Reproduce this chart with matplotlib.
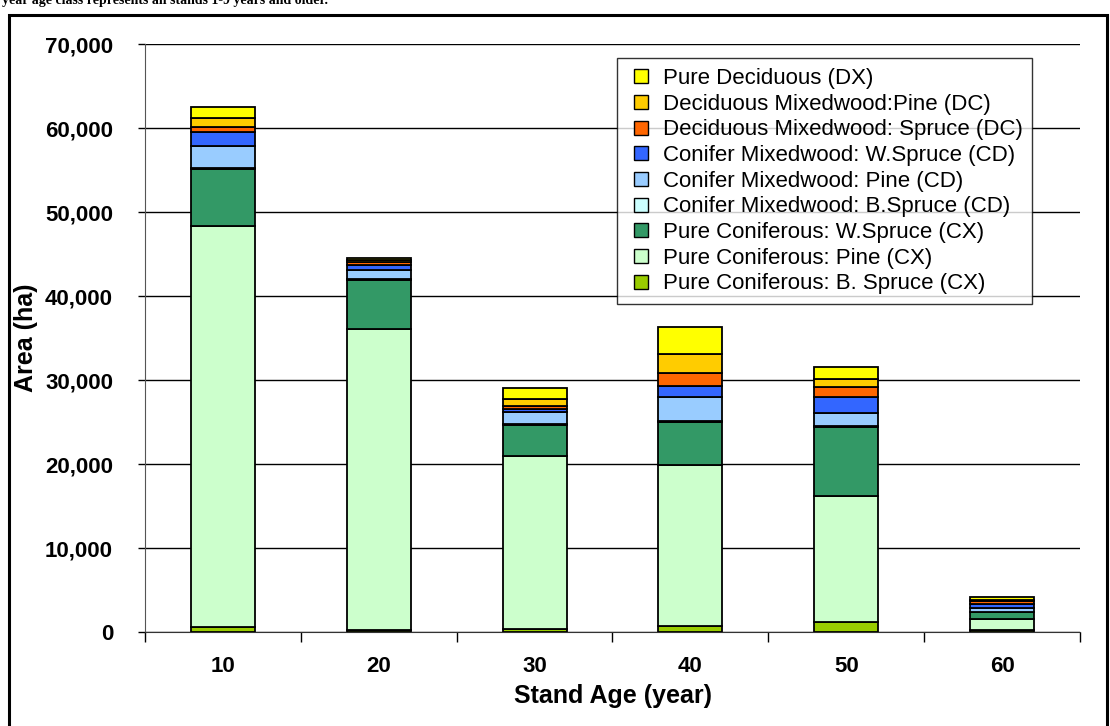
import matplotlib.pyplot as plt
from matplotlib.patches import Rectangle
from matplotlib.lines import Line2D
from matplotlib.ticker import FuncFormatter, FixedLocator
import numpy as np

plt.rcParams['font.family'] = ['Liberation Sans', 'DejaVu Sans']

ages = ["10", "20", "30", "40", "50", "60"]

# stacked from bottom to top
series_names = [
    "Pure Coniferous: B. Spruce (CX)",
    "Pure Coniferous: Pine (CX)",
    "Pure Coniferous: W.Spruce (CX)",
    "Conifer Mixedwood: B.Spruce (CD)",
    "Conifer Mixedwood: Pine (CD)",
    "Conifer Mixedwood: W.Spruce (CD)",
    "Deciduous Mixedwood: Spruce (DC)",
    "Deciduous Mixedwood:Pine (DC)",
    "Pure Deciduous (DX)",
]
colors = ["#99CC00", "#CCFFCC", "#339966", "#CCFFFF", "#99CCFF",
          "#3366FF", "#FF6600", "#FFCC00", "#FFFF00"]

bspruce_cx = [600, 200, 350, 750, 1190, 250]
pine_cx = [47700, 35850, 20600, 19130, 15000, 1250]
wspruce_cx = [6800, 5900, 3750, 5080, 8250, 850]
bspruce_cd = [100, 100, 50, 100, 80, 50]
pine_cd = [2700, 1000, 1450, 2950, 1600, 500]
wspruce_cd = [1600, 700, 320, 1270, 1900, 400]
spruce_dc = [660, 250, 360, 1510, 1110, 350]
pine_dc = [1000, 250, 800, 2340, 950, 200]
pure_dx = [1350, 250, 1310, 3210, 1510, 350]

values = [bspruce_cx, pine_cx, wspruce_cx, bspruce_cd, pine_cd,
          wspruce_cd, spruce_dc, pine_dc, pure_dx]

fig = plt.figure(figsize=(11.1, 7.26), dpi=100)
ax = fig.add_axes([145 / 1110, 1 - 632 / 726, (1080 - 145) / 1110, (632 - 44) / 726])

x = np.arange(len(ages))
bottom = np.zeros(len(ages))
for name, vals, col in zip(series_names, values, colors):
    ax.bar(x, vals, width=0.41, bottom=bottom, color=col,
           edgecolor="black", linewidth=1.3, label=name, zorder=3)
    bottom += np.array(vals)

ax.set_xlim(-0.5, len(ages) - 0.5)
ax.set_ylim(0, 70000)
ax.set_yticks(np.arange(0, 70001, 10000))
ax.yaxis.set_major_formatter(FuncFormatter(lambda v, p: f"{int(v):,}"))
ax.grid(axis="y", color="black", linewidth=1.0, zorder=0)

ax.set_xticks(x)
ax.set_xticklabels(ages)
ax.xaxis.set_minor_locator(FixedLocator(np.arange(-0.5, len(ages), 1)))
ax.tick_params(axis="x", which="major", length=0, pad=17)
ax.tick_params(axis="x", which="minor", length=7, width=1, direction="out")
ax.tick_params(axis="y", length=5, width=1, direction="out", pad=18)
for lab in ax.get_xticklabels() + ax.get_yticklabels():
    lab.set_fontsize(16)
    lab.set_fontweight("bold")

for s in ["top", "right"]:
    ax.spines[s].set_visible(False)
ax.spines["left"].set_color("#555555")
ax.spines["bottom"].set_color("#333333")

ax.set_ylabel("Area (ha)", fontsize=18, fontweight="bold", labelpad=5)
ax.set_xlabel("Stand Age (year)", fontsize=18, fontweight="bold", labelpad=5)

handles = [Line2D([], [], linestyle="none", marker="s", markersize=10.5,
                  markerfacecolor=c, markeredgecolor="black", markeredgewidth=1.0)
           for c in colors[::-1]]
leg = ax.legend(handles, series_names[::-1], loc="upper left",
                bbox_to_anchor=(617 / 1110, 1 - 58 / 726), bbox_transform=fig.transFigure,
                fontsize=16, frameon=True, fancybox=False, edgecolor="black",
                handlelength=1.3, handletextpad=0.3,
                labelspacing=0.21, borderpad=0.45, borderaxespad=0)
leg.get_frame().set_linewidth(1.0)
leg.set_zorder(5)

# outer border and clipped caption line
fig.patches.append(Rectangle((9 / 1110, -0.01), 1098 / 1110, 1 - 15 / 726 + 0.01,
                             transform=fig.transFigure, fill=False,
                             edgecolor="black", linewidth=2.2))
fig.text(2 / 1110, 1 - 4 / 726, "year age class represents all stands 1-9 years and older.",
         family=["Liberation Serif", "DejaVu Serif"], fontweight="bold",
         fontsize=10, va="baseline", ha="left")

plt.savefig("out.png", dpi=100)
plt.close()
